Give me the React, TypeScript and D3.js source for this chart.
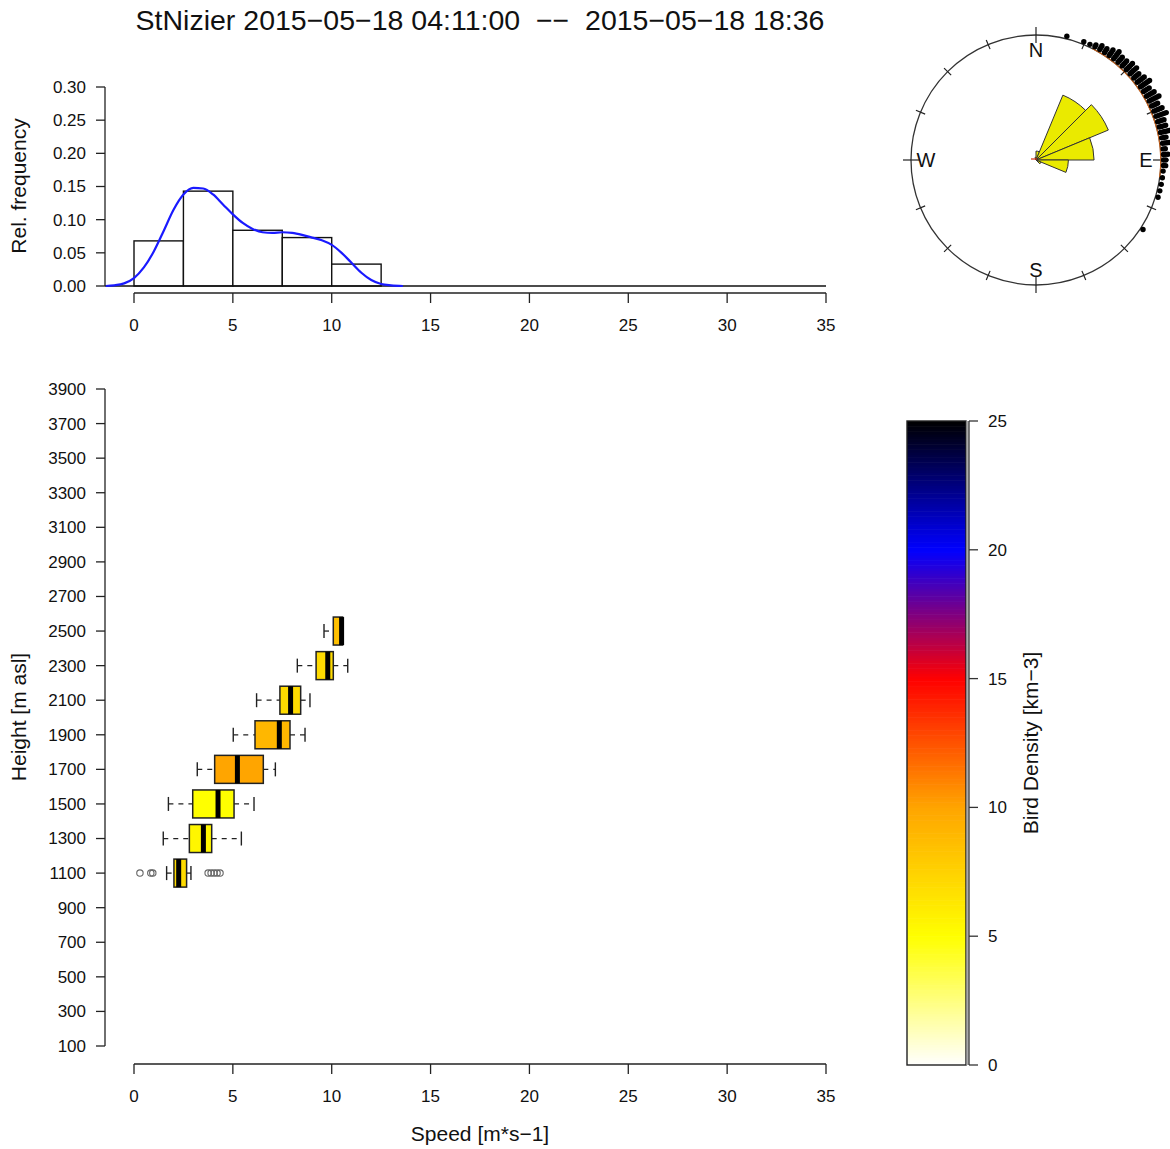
import React from 'react';
import * as d3 from 'd3';

// ---- data ----
const TITLE = 'StNizier 2015−05−18 04:11:00  −−  2015−05−18 18:36';

// speed histogram (density per 2.5 m/s bin)
const histBreaks = [0, 2.5, 5, 7.5, 10, 12.5];
const histDensity = [0.068, 0.143, 0.084, 0.073, 0.033];

// kernel density estimate of speed
const kdeSpeed = [-1.43, -1, -0.5, 0, 0.5, 1, 1.5, 2, 2.5, 3, 3.5, 4, 4.5, 5, 5.5, 6, 6.5, 7, 7.5, 8, 8.5, 9, 9.5, 10, 10.5, 11, 11.5, 12, 12.5, 13, 13.6];
const kdeValue = [0, 0.001, 0.004, 0.012, 0.028, 0.052, 0.083, 0.115, 0.138, 0.148, 0.147, 0.138, 0.123, 0.108, 0.095, 0.086, 0.081, 0.08, 0.081, 0.08, 0.077, 0.073, 0.069, 0.062, 0.05, 0.035, 0.02, 0.009, 0.003, 0.001, 0];

const speedTicks = [0, 5, 10, 15, 20, 25, 30, 35];
const freqTicks = [0, 0.05, 0.1, 0.15, 0.2, 0.25, 0.3];
const heightTicks = [100, 300, 500, 700, 900, 1100, 1300, 1500, 1700, 1900, 2100, 2300, 2500, 2700, 2900, 3100, 3300, 3500, 3700, 3900];
const densityTicks = [0, 5, 10, 15, 20, 25];

// speed per height layer
const boxHeight = [1100, 1300, 1500, 1700, 1900, 2100, 2300, 2500];
const boxLow = [1.65, 1.48, 1.74, 3.2, 5.02, 6.2, 8.26, 9.61];
const boxQ1 = [2.02, 2.8, 2.97, 4.08, 6.12, 7.38, 9.21, 10.08];
const boxMedian = [2.26, 3.51, 4.25, 5.23, 7.35, 7.92, 9.8, 10.5];
const boxQ3 = [2.66, 3.93, 5.06, 6.54, 7.89, 8.43, 10.08, 10.55];
const boxHigh = [2.88, 5.43, 6.07, 7.15, 8.65, 8.9, 10.81, 10.55];
const boxDensity = [7, 5.5, 5, 10, 9, 7, 7, 8.5];
const outlierHeight = [1100, 1100, 1100, 1100, 1100, 1100, 1100, 1100];
const outlierSpeed = [0.3, 0.85, 0.95, 3.75, 3.9, 4.05, 4.2, 4.35];

// flight directions (deg) and number of tracks stacked per direction
const dirAngle = [14, 22, 25, 27.5, 30, 32.5, 35, 37.5, 40, 42.5, 45, 47.5, 50, 52.5, 55, 57.5, 60, 62.5, 65, 67.5, 70, 72.5, 75, 77.5, 80, 82.5, 85, 87.5, 90, 92.5, 95, 98, 101, 104, 107, 123];
const dirCount = [1, 1, 1, 2, 3, 3, 4, 5, 4, 4, 5, 5, 4, 5, 6, 4, 5, 6, 4, 5, 6, 4, 4, 5, 3, 4, 2, 3, 2, 2, 1, 1, 1, 1, 1, 1];

// rose diagram: relative frequency per 22.5° sector, starting at N
const roseFreq = [0.033, 0.26, 0.29, 0.215, 0.12, 0.02, 0, 0, 0, 0, 0, 0, 0, 0, 0, 0.01];

const compass = [
  { label: 'N', deg: 0 },
  { label: 'E', deg: 90 },
  { label: 'S', deg: 180 },
  { label: 'W', deg: 270 },
];

// colour ramp for bird density
const rampStops = [0, 5, 10, 15, 20, 25];
const rampColors = ['#ffffff', '#ffff00', '#ffa500', '#ff0000', '#0000ff', '#000000'];

const FONT = '"Liberation Sans", Arial, Helvetica, sans-serif';

export default function App() {
  const W = 1170;
  const H = 1149;

  const x = d3.scaleLinear().domain([0, 35]).range([134, 826]);
  const yHist = d3.scaleLinear().domain([0, 0.3]).range([286, 87]);
  const yBox = d3.scaleLinear().domain([100, 3900]).range([1046, 389]);
  const yBar = d3.scaleLinear().domain([0, 25]).range([1065, 421]);
  const color = d3.scaleLinear<string>().domain(rampStops).range(rampColors).interpolate(d3.interpolateRgb);

  const kdeLine = d3
    .line<number>()
    .x((_, i) => x(kdeSpeed[i]))
    .y((d) => yHist(d))
    .curve(d3.curveMonotoneX);

  const boxH = 28;
  const axisColor = '#222';
  const tickFs = 17;
  const labelFs = 21;

  // polar plot geometry
  const cx = 1036;
  const cy = 160;
  const R = 125;
  const rRose = d3.scaleLinear().domain([0, 0.3]).range([0, 81]);
  const rad = (deg: number) => (deg * Math.PI) / 180;
  const polar = (deg: number, r: number) => [cx + r * Math.sin(rad(deg)), cy - r * Math.cos(rad(deg))];
  const sectorArc = d3.arc<any>();
  const dotArc = d3.arc<any>();

  const barSteps = d3.range(0, 25, 0.1);

  return (
    <svg
      width={W}
      height={H}
      viewBox={`0 0 ${W} ${H}`}
      style={{ position: 'absolute', left: 0, top: 0, background: '#fff' }}
      fontFamily={FONT}
    >
      <rect width={W} height={H} fill="#fff" />
      {/* title */}
      <text x={480} y={30} textAnchor="middle" fontSize={28.5} fill="#111" style={{ whiteSpace: 'pre' }}>
        {TITLE}
      </text>

      {/* ---------- histogram ---------- */}
      <g>
        {histDensity.map((d, i) => (
          <rect
            key={i}
            x={x(histBreaks[i])}
            y={yHist(d)}
            width={x(histBreaks[i + 1]) - x(histBreaks[i])}
            height={yHist(0) - yHist(d)}
            fill="#fff"
            stroke="#111"
            strokeWidth={1.4}
          />
        ))}
        <line x1={105} x2={826} y1={yHist(0)} y2={yHist(0)} stroke="#111" strokeWidth={1.4} />
        <path d={kdeLine(kdeValue) || ''} fill="none" stroke="#1a1aff" strokeWidth={2.2} />
        {/* y axis */}
        <line x1={105} x2={105} y1={yHist(0)} y2={yHist(0.3)} stroke={axisColor} strokeWidth={1.3} />
        {freqTicks.map((t) => (
          <g key={t}>
            <line x1={96} x2={105} y1={yHist(t)} y2={yHist(t)} stroke={axisColor} strokeWidth={1.3} />
            <text x={86} y={yHist(t)} dy="0.35em" textAnchor="end" fontSize={tickFs} fill="#111">
              {t.toFixed(2)}
            </text>
          </g>
        ))}
        <text
          transform={`translate(26,186) rotate(-90)`}
          textAnchor="middle"
          fontSize={labelFs}
          fill="#111"
        >
          Rel. frequency
        </text>
        {/* x axis */}
        <line x1={x(0)} x2={x(35)} y1={293} y2={293} stroke={axisColor} strokeWidth={1.3} />
        {speedTicks.map((t) => (
          <g key={t}>
            <line x1={x(t)} x2={x(t)} y1={293} y2={303} stroke={axisColor} strokeWidth={1.3} />
            <text x={x(t)} y={325} dy="0.35em" textAnchor="middle" fontSize={tickFs} fill="#111">
              {t}
            </text>
          </g>
        ))}
      </g>

      {/* ---------- direction plot ---------- */}
      <g>
        <circle cx={cx} cy={cy} r={R} fill="none" stroke="#333" strokeWidth={1.3} />
        {d3.range(0, 360, 22.5).map((deg) => {
          const major = deg % 90 === 0;
          const [x1, y1] = polar(deg, R - (major ? 8 : 5));
          const [x2, y2] = polar(deg, R + (major ? 8 : 5));
          return <line key={deg} x1={x1} y1={y1} x2={x2} y2={y2} stroke="#222" strokeWidth={1.2} />;
        })}
        {compass.map((c) => {
          const [tx, ty] = polar(c.deg, 110);
          return (
            <text key={c.label} x={tx} y={ty} dy="0.36em" textAnchor="middle" fontSize={20} fill="#111">
              {c.label}
            </text>
          );
        })}
        {/* density trace along the rim */}
        <path
          transform={`translate(${cx},${cy})`}
          d={
            dotArc({
              innerRadius: R - 0.8,
              outerRadius: R + 0.4,
              startAngle: rad(27),
              endAngle: rad(98),
            }) || ''
          }
          fill="#c8641e"
        />
        {/* stacked track directions */}
        {dirAngle.map((a, i) =>
          d3.range(dirCount[i]).map((k) => {
            const [px, py] = polar(a, R + 2.6 + k * 2.2);
            return <circle key={`${i}-${k}`} cx={px} cy={py} r={2.7} fill="#000" />;
          })
        )}
        {/* rose */}
        <g transform={`translate(${cx},${cy})`}>
          {roseFreq.map((f, i) =>
            f > 0 ? (
              <path
                key={i}
                d={
                  sectorArc({
                    innerRadius: 0,
                    outerRadius: rRose(f),
                    startAngle: rad(i * 22.5),
                    endAngle: rad((i + 1) * 22.5),
                  }) || ''
                }
                fill="#eaea00"
                stroke="#333"
                strokeWidth={1}
              />
            ) : null
          )}
          <line x1={-5} x2={1} y1={-1} y2={-1} stroke="#d03010" strokeWidth={1.2} />
        </g>
      </g>

      {/* ---------- height / speed boxplots ---------- */}
      <g>
        {boxHeight.map((h, i) => {
          const yc = yBox(h);
          return (
            <g key={h}>
              <line x1={x(boxLow[i])} x2={x(boxQ1[i])} y1={yc} y2={yc} stroke="#222" strokeWidth={1.3} strokeDasharray="5,5" />
              <line x1={x(boxQ3[i])} x2={x(boxHigh[i])} y1={yc} y2={yc} stroke="#222" strokeWidth={1.3} strokeDasharray="5,5" />
              <line x1={x(boxLow[i])} x2={x(boxLow[i])} y1={yc - 7} y2={yc + 7} stroke="#222" strokeWidth={1.4} />
              {boxHigh[i] > boxQ3[i] && (
                <line x1={x(boxHigh[i])} x2={x(boxHigh[i])} y1={yc - 7} y2={yc + 7} stroke="#222" strokeWidth={1.4} />
              )}
              <rect
                x={x(boxQ1[i])}
                y={yc - boxH / 2}
                width={x(boxQ3[i]) - x(boxQ1[i])}
                height={boxH}
                fill={color(boxDensity[i])}
                stroke="#222"
                strokeWidth={1.5}
              />
              <line x1={x(boxMedian[i])} x2={x(boxMedian[i])} y1={yc - boxH / 2} y2={yc + boxH / 2} stroke="#000" strokeWidth={5} />
            </g>
          );
        })}
        {outlierSpeed.map((s, i) => (
          <circle key={i} cx={x(s)} cy={yBox(outlierHeight[i])} r={3.2} fill="none" stroke="#666" strokeWidth={1.1} />
        ))}
        {/* y axis */}
        <line x1={105} x2={105} y1={yBox(100)} y2={yBox(3900)} stroke={axisColor} strokeWidth={1.3} />
        {heightTicks.map((t) => (
          <g key={t}>
            <line x1={96} x2={105} y1={yBox(t)} y2={yBox(t)} stroke={axisColor} strokeWidth={1.3} />
            <text x={86} y={yBox(t)} dy="0.35em" textAnchor="end" fontSize={tickFs} fill="#111">
              {t}
            </text>
          </g>
        ))}
        <text transform={`translate(26,717) rotate(-90)`} textAnchor="middle" fontSize={labelFs} fill="#111">
          Height [m asl]
        </text>
        {/* x axis */}
        <line x1={x(0)} x2={x(35)} y1={1064} y2={1064} stroke={axisColor} strokeWidth={1.3} />
        {speedTicks.map((t) => (
          <g key={t}>
            <line x1={x(t)} x2={x(t)} y1={1064} y2={1074} stroke={axisColor} strokeWidth={1.3} />
            <text x={x(t)} y={1096} dy="0.35em" textAnchor="middle" fontSize={tickFs} fill="#111">
              {t}
            </text>
          </g>
        ))}
        <text x={480} y={1134} dy="0.35em" textAnchor="middle" fontSize={labelFs} fill="#111">
          Speed [m*s−1]
        </text>
      </g>

      {/* ---------- colour bar ---------- */}
      <g>
        {barSteps.map((v) => (
          <rect
            key={v}
            x={907}
            y={yBar(v + 0.1)}
            width={59}
            height={yBar(v) - yBar(v + 0.1) + 0.6}
            fill={color(v + 0.05)}
          />
        ))}
        <rect x={907} y={yBar(25)} width={59} height={yBar(0) - yBar(25)} fill="none" stroke="#222" strokeWidth={1.4} />
        <line x1={967.5} x2={967.5} y1={yBar(0)} y2={yBar(25)} stroke="#aaa" strokeWidth={2} />
        <line x1={969} x2={969} y1={yBar(0)} y2={yBar(25)} stroke="#333" strokeWidth={1.3} />
        {densityTicks.map((t) => (
          <g key={t}>
            <line x1={969} x2={978} y1={yBar(t)} y2={yBar(t)} stroke="#333" strokeWidth={1.3} />
            <text x={988} y={yBar(t)} dy="0.35em" fontSize={tickFs} fill="#111">
              {t}
            </text>
          </g>
        ))}
        <text transform={`translate(1031,743) rotate(-90)`} textAnchor="middle" dy="0.35em" fontSize={labelFs} fill="#111">
          Bird Density [km−3]
        </text>
      </g>
    </svg>
  );
}
